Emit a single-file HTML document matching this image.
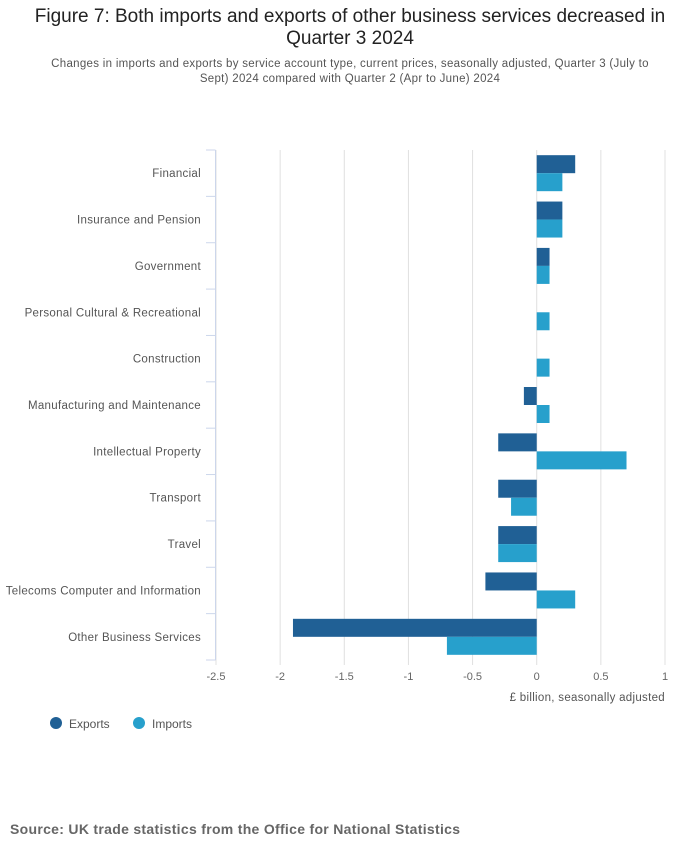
<!DOCTYPE html>
<html><head><meta charset="utf-8">
<style>
body{margin:0;background:#fff;font-family:"Liberation Sans",sans-serif;}
#wrap{position:relative;width:700px;height:857px;}
h1{position:absolute;left:0;width:700px;top:6px;margin:0;text-align:center;font-weight:normal;font-size:19px;color:#222;line-height:22px;}
.sub{position:absolute;left:40px;width:620px;top:57px;text-align:center;font-size:11.5px;color:#555;line-height:15px;letter-spacing:0.3px;}
.src{position:absolute;left:10px;top:821px;font-size:14px;font-weight:bold;color:#666;letter-spacing:0.3px;}
</style></head><body>
<div id="wrap">
<h1>Figure 7: Both imports and exports of other business services decreased in Quarter 3 2024</h1>
<div class="sub">Changes in imports and exports by service account type, current prices, seasonally adjusted, Quarter 3 (July to Sept) 2024 compared with Quarter 2 (Apr to June) 2024</div>
<svg id="chart" width="700" height="857" style="position:absolute;left:0;top:0"></svg>
<div class="src">Source: UK trade statistics from the Office for National Statistics</div>
</div>
<script>
const categories=["Financial","Insurance and Pension","Government","Personal Cultural & Recreational","Construction","Manufacturing and Maintenance","Intellectual Property","Transport","Travel","Telecoms Computer and Information","Other Business Services"];
const exportsVals=[0.3,0.2,0.1,0,0,-0.1,-0.3,-0.3,-0.3,-0.4,-1.9];
const importsVals=[0.2,0.2,0.1,0.1,0.1,0.1,0.7,-0.2,-0.3,0.3,-0.7];
const ticks=[-2.5,-2,-1.5,-1,-0.5,0,0.5,1];
const tickLabels=["-2.5","-2","-1.5","-1","-0.5","0","0.5","1"];
const NS="http://www.w3.org/2000/svg";
const svg=document.getElementById('chart');
const x0=216,x1=665,y0=150,y1=660,xmin=-2.5,xmax=1;
const xs=v=>x0+(v-xmin)/(xmax-xmin)*(x1-x0);
const band=(y1-y0)/categories.length;
const yb=i=>y0+i*band;
function mk(t,a){const e=document.createElementNS(NS,t);for(const k in a)e.setAttribute(k,a[k]);svg.appendChild(e);return e;}
ticks.forEach((t,i)=>{
  const g=mk('line',{x1:xs(t),x2:xs(t),y1:y0,y2:y1+5,stroke:'#e0e0e0','stroke-width':1});
  
  
  const l=mk('text',{x:xs(t),y:680,'text-anchor':'middle','font-size':11,fill:'#666'});
  l.textContent=tickLabels[i];
  
  
});
const ax=mk('line',{x1:215.5,x2:215.5,y1:y0,y2:y1,stroke:'#ccd6eb'});


for(let i=0;i<=categories.length;i++){
  const tk=mk('line',{x1:206,x2:215.5,y1:yb(i),y2:yb(i),stroke:'#ccd6eb'});
  
  
}
const bh=18;
categories.forEach((c,i)=>{
  const cy=yb(i)+band/2;
  const lb=mk('text',{x:201,y:cy+4,'text-anchor':'end','font-size':11.5,'letter-spacing':0.3,fill:'#555'});
  lb.textContent=c;
  
  
  const e=exportsVals[i],m=importsVals[i];
  const be=mk('rect',{x:Math.min(xs(0),xs(e)),y:cy-bh,width:Math.abs(xs(e)-xs(0)),height:bh,fill:'#206095'});
  
  
  const bi=mk('rect',{x:Math.min(xs(0),xs(m)),y:cy,width:Math.abs(xs(m)-xs(0)),height:bh,fill:'#27a0cc'});
  
  
});
const at=mk('text',{x:665,y:701,'text-anchor':'end','font-size':11.5,'letter-spacing':0.3,fill:'#555'});
at.textContent='£ billion, seasonally adjusted';


[["Exports","#206095",56],["Imports","#27a0cc",139]].forEach(([n,c,x])=>{
  const ci=mk('circle',{cx:x,cy:723,r:6,fill:c});
  
  
  const t=mk('text',{x:x+13,y:728,'font-size':12,fill:'#555'});
  t.textContent=n;
  
  
});
</script>
</body></html>
